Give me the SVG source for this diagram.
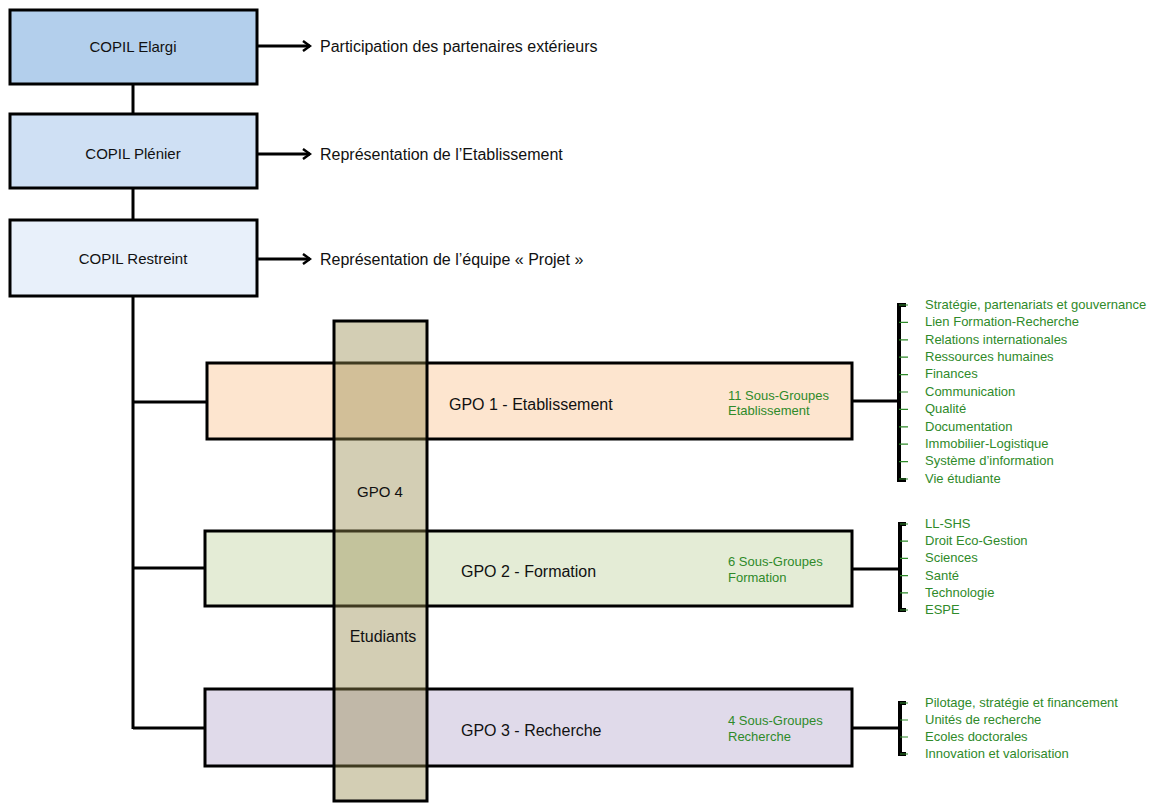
<svg xmlns="http://www.w3.org/2000/svg" width="1160" height="803" viewBox="0 0 1160 803">
<style>
.box{stroke:#000;stroke-width:3}
.lbl{font-family:"Liberation Sans",Arial,sans-serif;font-size:16px;fill:#111}
.sm{font-size:15px}
.cen{text-anchor:middle}
.grn{font-family:"Liberation Sans",Arial,sans-serif;font-size:13px;fill:#2f8a2a}
.ln{stroke:#000;stroke-width:3;fill:none}
.br{stroke:#000;stroke-width:4;fill:none}
.tk{stroke:#2f8a2a;stroke-width:1.2;fill:none}
</style>
<defs>
<marker id="arr" viewBox="0 0 12 12" refX="10" refY="6" markerWidth="12" markerHeight="12" markerUnits="userSpaceOnUse" orient="auto">
<path d="M3,1 L10,6 L3,11" fill="none" stroke="#000" stroke-width="2.5"/>
</marker>
</defs>
<rect width="1160" height="803" fill="#fff"/>
<g id="connectors">
<line class="ln" x1="133" y1="84" x2="133" y2="114"/>
<line class="ln" x1="133" y1="188" x2="133" y2="220"/>
<line class="ln" x1="133" y1="296" x2="133" y2="729"/>
<line class="ln" x1="133" y1="402" x2="207" y2="402"/>
<line class="ln" x1="133" y1="568" x2="205" y2="568"/>
<line class="ln" x1="133" y1="728" x2="205" y2="728"/>
<line class="ln" x1="257" y1="46" x2="310" y2="46" marker-end="url(#arr)"/>
<line class="ln" x1="257" y1="154" x2="310" y2="154" marker-end="url(#arr)"/>
<line class="ln" x1="257" y1="259" x2="310" y2="259" marker-end="url(#arr)"/>
<line class="ln" x1="852" y1="401" x2="899" y2="401"/>
<line class="ln" x1="852" y1="569" x2="899" y2="569"/>
<line class="ln" x1="852" y1="728" x2="899" y2="728"/>
</g>
<g id="copil-elargi"><rect class="box" x="10" y="10" width="247" height="74" fill="#b3cfec"/><text class="lbl sm cen" x="133" y="52">COPIL Elargi</text></g>
<g id="copil-plenier"><rect class="box" x="10" y="114" width="247" height="74" fill="#cfe0f4"/><text class="lbl sm cen" x="133" y="159">COPIL Plénier</text></g>
<g id="copil-restreint"><rect class="box" x="10" y="220" width="247" height="76" fill="#e8f0fa"/><text class="lbl sm cen" x="133" y="264">COPIL Restreint</text></g>
<g id="desc-elargi"><text class="lbl" x="320" y="52">Participation des partenaires extérieurs</text></g>
<g id="desc-plenier"><text class="lbl" x="320" y="160">Représentation de l’Etablissement</text></g>
<g id="desc-restreint"><text class="lbl" x="320" y="265">Représentation de l’équipe « Projet »</text></g>
<g id="gpo1"><rect class="box" x="207" y="363" width="645" height="76" fill="#fde5cf"/><text class="lbl" x="449" y="410">GPO 1 - Etablissement</text><text class="grn" x="728" y="400">11 Sous-Groupes</text><text class="grn" x="728" y="415">Etablissement</text></g>
<g id="gpo2"><rect class="box" x="205" y="531" width="647" height="75" fill="#e4ecd6"/><text class="lbl" x="461" y="577">GPO 2 - Formation</text><text class="grn" x="728" y="566">6 Sous-Groupes</text><text class="grn" x="728" y="582">Formation</text></g>
<g id="gpo3"><rect class="box" x="205" y="689" width="647" height="77" fill="#e0daea"/><text class="lbl" x="461" y="736">GPO 3 - Recherche</text><text class="grn" x="728" y="725">4 Sous-Groupes</text><text class="grn" x="728" y="741">Recherche</text></g>
<g id="gpo4"><rect x="334" y="321" width="93" height="480" fill="#968a4c" fill-opacity="0.42" stroke="#000" stroke-width="3"/><text class="lbl sm cen" x="380" y="497">GPO 4</text><text class="lbl cen" x="383" y="642">Etudiants</text></g>
<g id="sg-etablissement">
<path class="br" d="M906,305 H899 V480 H906"/>
<path class="tk" d="M899,305H908M899,322.4H908M899,339.8H908M899,357.2H908M899,374.6H908M899,392H908M899,409.4H908M899,426.8H908M899,444.2H908M899,461.6H908M899,479H908"/>
<text class="grn" x="925" y="309">Stratégie, partenariats et gouvernance</text>
<text class="grn" x="925" y="326">Lien Formation-Recherche</text>
<text class="grn" x="925" y="344">Relations internationales</text>
<text class="grn" x="925" y="361">Ressources humaines</text>
<text class="grn" x="925" y="378">Finances</text>
<text class="grn" x="925" y="396">Communication</text>
<text class="grn" x="925" y="413">Qualité</text>
<text class="grn" x="925" y="431">Documentation</text>
<text class="grn" x="925" y="448">Immobilier-Logistique</text>
<text class="grn" x="925" y="465">Système d’information</text>
<text class="grn" x="925" y="483">Vie étudiante</text>
</g>
<g id="sg-formation">
<path class="br" d="M906,524 H900 V610 H906"/>
<path class="tk" d="M900,524H908M900,541.2H908M900,558.4H908M900,575.6H908M900,592.8H908M900,610H908"/>
<text class="grn" x="925" y="528">LL-SHS</text>
<text class="grn" x="925" y="545">Droit Eco-Gestion</text>
<text class="grn" x="925" y="562">Sciences</text>
<text class="grn" x="925" y="580">Santé</text>
<text class="grn" x="925" y="597">Technologie</text>
<text class="grn" x="925" y="614">ESPE</text>
</g>
<g id="sg-recherche">
<path class="br" d="M906,703 H900 V754 H906"/>
<path class="tk" d="M900,703H908M900,720H908M900,737H908M900,754H908"/>
<text class="grn" x="925" y="707">Pilotage, stratégie et financement</text>
<text class="grn" x="925" y="724">Unités de recherche</text>
<text class="grn" x="925" y="741">Ecoles doctorales</text>
<text class="grn" x="925" y="758">Innovation et valorisation</text>
</g>
</svg>
